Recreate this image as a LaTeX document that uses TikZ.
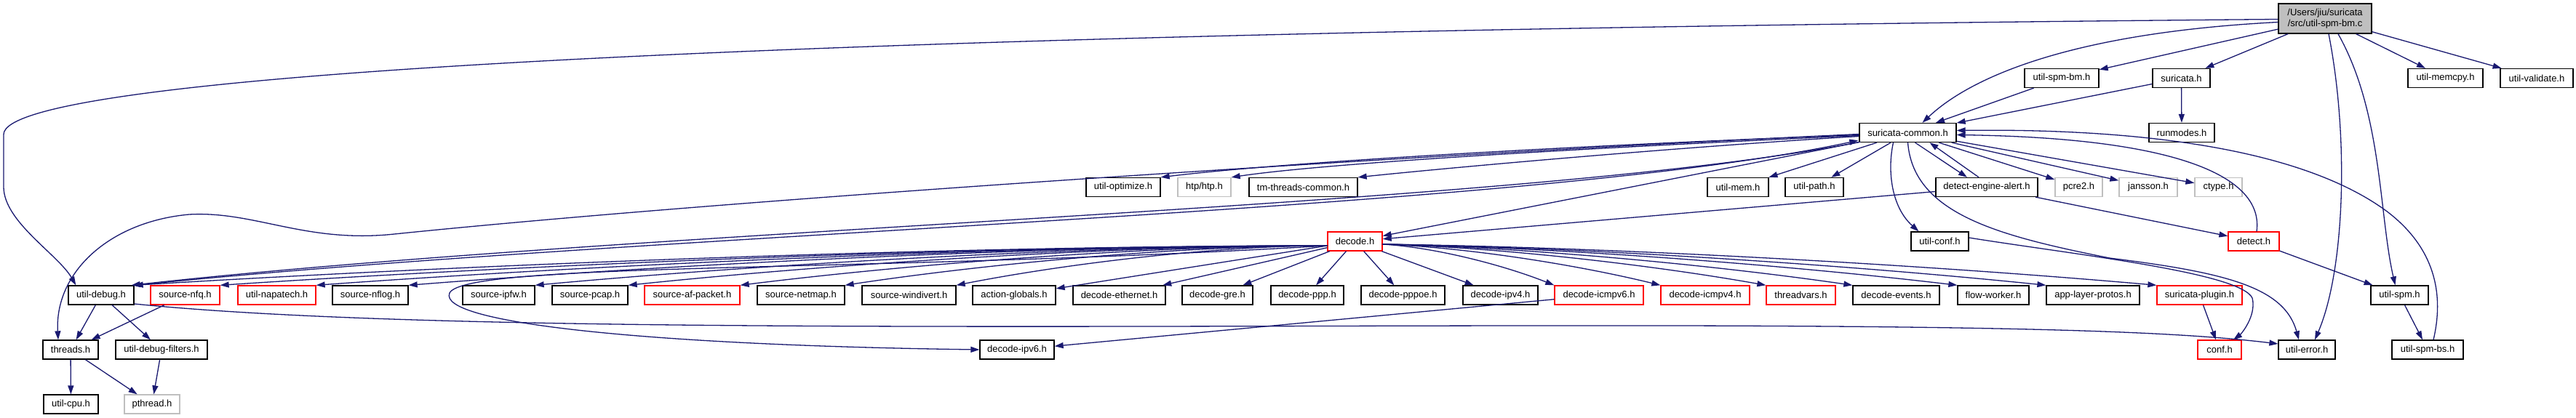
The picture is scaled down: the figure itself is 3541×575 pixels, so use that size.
\documentclass[tikz,border=0pt]{standalone}
\usepackage{fontspec}
\setmainfont{Liberation Sans}
\usetikzlibrary{arrows.meta, calc}
\definecolor{midnight}{HTML}{191970}
\definecolor{boxred}{HTML}{FF0000}
\definecolor{boxgray}{HTML}{BFBFBF}

\begin{document}
\begin{tikzpicture}[x=1pt, y=1pt,
    file/.style={draw=black, line width=1.3pt, fill=white, minimum height=26pt, inner sep=0pt, font=\fontsize{13}{15}\selectfont},
    redfile/.style={file, draw=boxred},
    extfile/.style={file, draw=boxgray},
    edge/.style={draw=midnight, line width=1.3pt, -{Triangle[length=12pt,width=8pt]}}]
    \useasboundingbox[fill=white] (0,0) rectangle (3541,575);

    % row 0 and 1
    \node[file, fill=boxgray, minimum width=128pt, minimum height=41pt, align=center] (main) at (3196,549.5) {/Users/jiu/suricata\\/src/util-spm-bm.c};
    \node[file, minimum width=102pt] (spmbm) at (2834,467.5) {util-spm-bm.h};
    \node[file, minimum width=79pt] (suricata) at (2998.5,467.5) {suricata.h};
    \node[file, minimum width=103pt] (memcpy) at (3361.5,467.5) {util-memcpy.h};
    \node[file, minimum width=100pt] (validate) at (3487,467.5) {util-validate.h};

    % row 2 and 3
    \node[file, minimum width=133pt] (scommon) at (2622.5,392.5) {suricata-common.h};
    \node[file, minimum width=90pt] (runmodes) at (2999,392.5) {runmodes.h};
    \node[file, minimum width=102pt] (optimize) at (1544,317.5) {util-optimize.h};
    \node[extfile, minimum width=73pt] (htp) at (1655.5,317.5) {htp/htp.h};
    \node[file, minimum width=149pt] (tmthreads) at (1791.5,317.5) {tm-threads-common.h};
    \node[file, minimum width=84pt] (mem) at (2389,317.5) {util-mem.h};
    \node[file, minimum width=80pt] (path) at (2494,317.5) {util-path.h};
    \node[file, minimum width=140pt] (dealert) at (2731,317.5) {detect-engine-alert.h};
    \node[extfile, minimum width=65pt] (pcre) at (2857.5,317.5) {pcre2.h};
    \node[extfile, minimum width=80pt] (jansson) at (2953,317.5) {jansson.h};
    \node[extfile, minimum width=65pt] (ctype) at (3049.5,317.5) {ctype.h};

    % row 4
    \node[redfile, minimum width=75pt] (decode) at (1862.5,243) {decode.h};
    \node[file, minimum width=79pt] (uconf) at (2666.5,243) {util-conf.h};
    \node[redfile, minimum width=70pt] (detect) at (3098,243) {detect.h};

    % row 5
    \node[file, minimum width=90pt] (udebug) at (139,169) {util-debug.h};
    \node[redfile, minimum width=95pt] (nfq) at (254.5,169) {source-nfq.h};
    \node[redfile, minimum width=107pt] (napatech) at (380.5,169) {util-napatech.h};
    \node[file, minimum width=104pt] (nflog) at (509,169) {source-nflog.h};
    \node[file, minimum width=99pt] (ipfw) at (685.5,169) {source-ipfw.h};
    \node[file, minimum width=104pt] (pcap) at (811,169) {source-pcap.h};
    \node[redfile, minimum width=131pt] (afpacket) at (951.5,169) {source-af-packet.h};
    \node[file, minimum width=120pt] (netmap) at (1101,169) {source-netmap.h};
    \node[file, minimum width=129pt] (windivert) at (1249.5,169) {source-windivert.h};
    \node[file, minimum width=114pt] (actglobals) at (1394,169) {action-globals.h};
    \node[file, minimum width=127pt] (ethernet) at (1538.5,169) {decode-ethernet.h};
    \node[file, minimum width=97pt] (gre) at (1673.5,169) {decode-gre.h};
    \node[file, minimum width=100pt] (ppp) at (1797,169) {decode-ppp.h};
    \node[file, minimum width=115pt] (pppoe) at (1928.5,169) {decode-pppoe.h};
    \node[file, minimum width=103pt] (ipv4) at (2062.5,169) {decode-ipv4.h};
    \node[redfile, minimum width=122pt] (icmpv6) at (2198,169) {decode-icmpv6.h};
    \node[redfile, minimum width=122pt] (icmpv4) at (2344,169) {decode-icmpv4.h};
    \node[redfile, minimum width=95pt] (threadvars) at (2475.5,169) {threadvars.h};
    \node[file, minimum width=119pt] (events) at (2606.5,169) {decode-events.h};
    \node[file, minimum width=98pt] (flowworker) at (2740,169) {flow-worker.h};
    \node[file, minimum width=128pt] (alproto) at (2877,169) {app-layer-protos.h};
    \node[redfile, minimum width=117pt] (plugin) at (3023.5,169) {suricata-plugin.h};
    \node[file, minimum width=79pt] (spm) at (3298.5,169) {util-spm.h};

    % row 6 and 7
    \node[file, minimum width=76pt] (threads) at (97,94) {threads.h};
    \node[file, minimum width=126pt] (dfilters) at (222,94) {util-debug-filters.h};
    \node[file, minimum width=102pt] (ipv6) at (1398,94) {decode-ipv6.h};
    \node[redfile, minimum width=60pt] (conf) at (3051,94) {conf.h};
    \node[file, minimum width=78pt] (uerror) at (3171,94) {util-error.h};
    \node[file, minimum width=98pt] (spmbs) at (3337,94) {util-spm-bs.h};
    \node[file, minimum width=75pt] (cpu) at (97.5,19) {util-cpu.h};
    \node[extfile, minimum width=76pt] (pthread) at (209,19) {pthread.h};

    % straight includes
    \foreach \i/\j in {main/spmbm, main/suricata, main/memcpy, main/validate,
                       spmbm/scommon, suricata/scommon, suricata/runmodes,
                       scommon/mem, scommon/path, scommon/pcre, scommon/jansson, scommon/ctype,
                       scommon/decode, dealert/decode, dealert/detect, detect/spm,
                       spm/spmbs, plugin/conf, icmpv6/ipv6,
                       decode/actglobals, decode/ethernet, decode/gre, decode/ppp, decode/pppoe, decode/ipv4,
                       udebug/threads, udebug/dfilters, nfq/threads,
                       threads/cpu, threads/pthread, dfilters/pthread} {
        \draw[edge] (\i) -- (\j);
    }

    % decode.h fans out
    \foreach \j in {udebug, nfq, napatech, nflog, ipfw, pcap, afpacket, netmap, windivert} {
        \draw[edge] ($(decode.west)+(0,-6)$) .. controls ($(decode.west)!0.3!(\j.north east)+(0,12)$)
            and ($(decode.west)!0.7!(\j.north east)+(0,12)$) .. (\j.north east);
    }
    \foreach \j in {icmpv6, icmpv4, threadvars, events, flowworker, alproto, plugin} {
        \draw[edge] ($(decode.east)+(0,-4)$) .. controls ($(decode.east)!0.3!(\j.north west)+(0,10)$)
            and ($(decode.east)!0.7!(\j.north west)+(0,10)$) .. (\j.north west);
    }
    \draw[edge] ($(decode.west)+(0,-6)$) .. controls (1200,200) and (640,215) .. (618,172)
        .. controls (600,130) and (900,100) .. (ipv6.west);

    % long includes of the source file
    \draw[edge] ($(main.west)+(0,-1)$) .. controls (1000,530) and (5,470) .. (5,390) -- (5,318)
        .. controls (5,270) and (80,225) .. ($(udebug.north west)+(11,0)$);
    \draw[edge] ($(main.west)+(0,-5)$) .. controls (2850,530) and (2710,470) .. ($(scommon.north)+(20,0)$);
    \draw[edge] ($(main.south)+(5,0)$) .. controls (3230,380) and (3222,200) .. ($(uerror.north)+(11,0)$);
    \draw[edge] ($(main.south)+(18,0)$) .. controls (3275,420) and (3270,280) .. ($(spm.north)+(-6,0)$);

    % suricata-common.h
    \draw[edge] ($(scommon.west)+(0,-3)$) .. controls (2100,372) and (1750,350) .. (optimize.north east);
    \draw[edge] ($(scommon.west)+(0,-4)$) .. controls (2150,370) and (1820,350) .. (htp.north east);
    \draw[edge] ($(scommon.west)+(0,-5)$) .. controls (2300,372) and (2000,345) .. (tmthreads.north east);
    \draw[edge] ($(scommon.west)+(0,-2)$) .. controls (1900,360) and (1000,300) .. (542,253)
        .. controls (420,240) and (350,285) .. (260,280)
        .. controls (150,270) and (75,200) .. ($(threads.north)+(-17,0)$);
    \draw[edge] ($(scommon.south west)+(2,1)$) .. controls (2100,290) and (900,262) .. ($(udebug.north east)+(-4,0)$);
    \draw[edge] ($(udebug.north east)+(2,0)$) .. controls (900,256) and (2100,284) .. ($(scommon.south west)+(-1,3)$);
    \draw[edge] ($(scommon.south)+(10,0)$) -- ($(dealert.north)+(-27,0)$);
    \draw[edge] ($(dealert.north)+(-11,0)$) -- ($(scommon.south)+(30,0)$);
    \draw[edge] ($(scommon.south)+(-20,0)$) .. controls (2594,340) and (2600,290) .. ($(uconf.north)+(-29,0)$);
    \draw[edge] (scommon.south) .. controls (2630,280) and (2750,250) .. (2900,220)
        .. controls (3060,200) and (3140,180) .. ($(uerror.north)+(-11,0)$);

    % back to suricata-common.h
    \draw[edge] ($(detect.north)+(4,0)$) .. controls (3112,330) and (3000,385) .. ($(scommon.east)+(0,-3)$);
    \draw[edge] ($(spmbs.north)+(8,0)$) .. controls (3362,180) and (3340,240) .. (3280,285)
        .. controls (3150,380) and (2900,398) .. ($(scommon.east)+(0,3)$);

    % the rest
    \draw[edge] ($(uconf.east)+(0,5)$) .. controls (2850,225) and (3080,200) .. (3096,165)
        .. controls (3102,140) and (3080,115) .. ($(conf.north)+(19,0)$);
    \draw[edge] ($(udebug.east)+(0,-12)$) .. controls (600,115) and (1500,128) .. (2300,127)
        .. controls (2800,126) and (3000,118) .. ($(uerror.west)+(0,8)$);
\end{tikzpicture}
\end{document}
